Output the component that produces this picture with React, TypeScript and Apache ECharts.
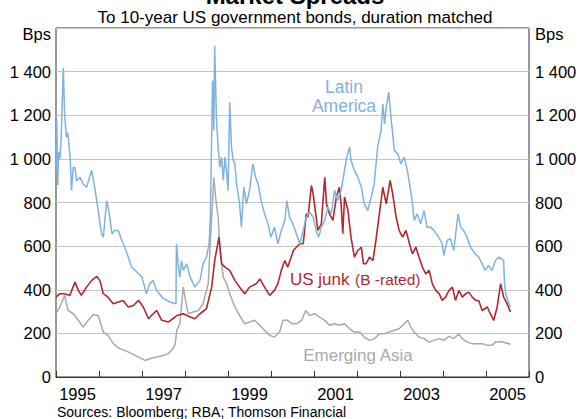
import React, { useEffect, useRef } from "react";
import * as echarts from "echarts";

// [decimal year, basis points]
const latinAmerica: [number, number][] = [
  [1995.0, 950], [1995.02, 1180], [1995.04, 880], [1995.06, 1030], [1995.09, 1000], [1995.12, 1100],
  [1995.17, 1417], [1995.2, 1206], [1995.24, 1100], [1995.27, 1120], [1995.33, 1008], [1995.36, 855],
  [1995.4, 960], [1995.44, 960], [1995.48, 900], [1995.56, 915], [1995.63, 885], [1995.71, 870],
  [1995.83, 947], [1995.9, 870], [1995.98, 763], [1996.06, 657], [1996.1, 641], [1996.18, 809],
  [1996.24, 748], [1996.3, 657], [1996.37, 672], [1996.45, 672], [1996.53, 626], [1996.6, 595],
  [1996.68, 550], [1996.76, 504], [1996.84, 489], [1996.92, 473], [1997.0, 458], [1997.1, 382],
  [1997.18, 428], [1997.26, 443], [1997.34, 397], [1997.5, 359], [1997.65, 344], [1997.79, 336],
  [1997.8, 611], [1997.84, 519], [1997.88, 458], [1997.92, 534], [1997.96, 489], [1998.04, 519],
  [1998.12, 458], [1998.23, 412], [1998.35, 443], [1998.42, 519], [1998.5, 550], [1998.56, 611],
  [1998.59, 733], [1998.64, 1359], [1998.67, 1130], [1998.69, 1519], [1998.73, 1191], [1998.77, 1054],
  [1998.81, 962], [1998.85, 1008], [1998.89, 901], [1998.93, 1008], [1998.97, 931], [1999.0, 855],
  [1999.04, 1260], [1999.08, 1054], [1999.12, 993], [1999.16, 977], [1999.2, 886], [1999.27, 794],
  [1999.31, 687], [1999.37, 870], [1999.43, 794], [1999.5, 855], [1999.58, 977], [1999.64, 916],
  [1999.7, 886], [1999.77, 809], [1999.85, 748], [1999.93, 702], [2000.0, 641], [2000.08, 687],
  [2000.16, 611], [2000.24, 672], [2000.32, 718], [2000.37, 809], [2000.43, 733], [2000.51, 702],
  [2000.59, 657], [2000.67, 611], [2000.75, 672], [2000.82, 733], [2000.9, 756], [2000.98, 733],
  [2001.05, 672], [2001.11, 641], [2001.17, 687], [2001.25, 718], [2001.32, 779], [2001.4, 748],
  [2001.48, 855], [2001.55, 809], [2001.63, 855], [2001.71, 947], [2001.76, 1008], [2001.83, 1054],
  [2001.86, 993], [2001.94, 947], [2002.02, 916], [2002.1, 870], [2002.17, 794], [2002.25, 763],
  [2002.33, 825], [2002.4, 886], [2002.48, 1054], [2002.56, 1130], [2002.6, 1252], [2002.64, 1160],
  [2002.67, 1222], [2002.74, 1306], [2002.79, 1191], [2002.87, 1038], [2002.95, 1023], [2003.02, 977],
  [2003.1, 1008], [2003.17, 947], [2003.21, 901], [2003.27, 825], [2003.33, 718], [2003.4, 748],
  [2003.48, 702], [2003.56, 763], [2003.63, 687], [2003.71, 687], [2003.79, 672], [2003.9, 641],
  [2003.98, 611], [2004.02, 557], [2004.1, 626], [2004.17, 634], [2004.25, 580], [2004.35, 748],
  [2004.41, 687], [2004.48, 672], [2004.56, 641], [2004.64, 595], [2004.75, 565], [2004.83, 550],
  [2004.91, 519], [2004.98, 489], [2005.06, 511], [2005.14, 489], [2005.22, 534], [2005.3, 550],
  [2005.41, 534], [2005.43, 428], [2005.46, 382], [2005.53, 336], [2005.57, 321],
];

const usJunk: [number, number][] = [
  [1995.0, 366], [1995.09, 382], [1995.2, 382], [1995.32, 374], [1995.44, 435], [1995.52, 397],
  [1995.59, 374], [1995.71, 412], [1995.83, 443], [1995.95, 461], [1996.02, 443], [1996.1, 382],
  [1996.21, 366], [1996.33, 336], [1996.45, 344], [1996.56, 351], [1996.68, 321], [1996.8, 328],
  [1996.92, 351], [1997.03, 321], [1997.15, 267], [1997.22, 282], [1997.34, 305], [1997.46, 260],
  [1997.61, 252], [1997.77, 275], [1997.81, 282], [1997.96, 290], [1998.12, 275], [1998.23, 267],
  [1998.35, 290], [1998.5, 313], [1998.62, 412], [1998.69, 534], [1998.79, 641], [1998.85, 519],
  [1998.93, 504], [1999.04, 489], [1999.16, 443], [1999.27, 412], [1999.39, 382], [1999.5, 412],
  [1999.66, 428], [1999.74, 450], [1999.85, 412], [1999.97, 374], [2000.08, 397], [2000.16, 428],
  [2000.24, 489], [2000.32, 534], [2000.39, 504], [2000.47, 550], [2000.52, 580], [2000.59, 595],
  [2000.67, 611], [2000.75, 611], [2000.82, 748], [2000.86, 733], [2000.94, 878], [2000.98, 840],
  [2001.02, 779], [2001.09, 672], [2001.17, 702], [2001.25, 916], [2001.29, 794], [2001.36, 748],
  [2001.44, 718], [2001.52, 825], [2001.59, 870], [2001.63, 794], [2001.67, 657], [2001.71, 825],
  [2001.79, 763], [2001.86, 641], [2001.94, 550], [2002.02, 580], [2002.1, 595], [2002.15, 519],
  [2002.21, 519], [2002.29, 550], [2002.37, 534], [2002.44, 626], [2002.52, 748], [2002.6, 870],
  [2002.68, 794], [2002.77, 901], [2002.83, 840], [2002.91, 733], [2002.98, 672], [2003.06, 641],
  [2003.14, 672], [2003.22, 611], [2003.29, 565], [2003.37, 595], [2003.44, 550], [2003.52, 504],
  [2003.6, 473], [2003.68, 489], [2003.75, 428], [2003.83, 397], [2003.91, 382], [2003.98, 351],
  [2004.06, 366], [2004.14, 397], [2004.22, 412], [2004.29, 351], [2004.37, 397], [2004.45, 366],
  [2004.53, 382], [2004.6, 389], [2004.68, 366], [2004.76, 351], [2004.83, 351], [2004.91, 305],
  [2005.03, 321], [2005.1, 290], [2005.18, 260], [2005.26, 321], [2005.34, 428], [2005.41, 366],
  [2005.49, 336], [2005.57, 298],
];

const emergingAsia: [number, number][] = [
  [1995.0, 290], [1995.09, 321], [1995.2, 374], [1995.28, 305], [1995.4, 290], [1995.52, 260],
  [1995.63, 229], [1995.75, 260], [1995.87, 287], [1995.98, 282], [1996.1, 206], [1996.21, 191],
  [1996.33, 153], [1996.48, 130], [1996.6, 122], [1996.76, 107], [1996.91, 92], [1997.07, 76],
  [1997.18, 84], [1997.34, 92], [1997.5, 99], [1997.61, 107], [1997.72, 130], [1997.77, 150],
  [1997.81, 214], [1997.88, 244], [1997.96, 412], [1998.04, 321], [1998.08, 290], [1998.19, 298],
  [1998.31, 305], [1998.42, 336], [1998.54, 428], [1998.62, 733], [1998.67, 916], [1998.72, 809],
  [1998.77, 733], [1998.81, 595], [1998.89, 458], [1998.97, 428], [1999.04, 382], [1999.16, 321],
  [1999.27, 282], [1999.39, 244], [1999.5, 252], [1999.62, 260], [1999.74, 237], [1999.85, 214],
  [1999.97, 191], [2000.08, 183], [2000.2, 206], [2000.28, 260], [2000.39, 260], [2000.5, 244],
  [2000.59, 244], [2000.71, 260], [2000.81, 305], [2000.9, 282], [2001.02, 290], [2001.13, 275],
  [2001.25, 260], [2001.36, 237], [2001.48, 244], [2001.59, 237], [2001.71, 244], [2001.83, 221],
  [2001.94, 206], [2002.06, 206], [2002.17, 183], [2002.29, 168], [2002.41, 176], [2002.52, 198],
  [2002.64, 198], [2002.75, 206], [2002.87, 214], [2002.98, 221], [2003.1, 244], [2003.18, 260],
  [2003.25, 229], [2003.33, 206], [2003.44, 183], [2003.56, 176], [2003.68, 160], [2003.79, 168],
  [2003.91, 176], [2004.02, 168], [2004.14, 186], [2004.25, 176], [2004.36, 196], [2004.45, 176],
  [2004.56, 160], [2004.68, 153], [2004.8, 153], [2004.91, 153], [2005.03, 145], [2005.14, 145],
  [2005.22, 160], [2005.34, 163], [2005.45, 157], [2005.57, 150],
];

const yearTicks = [1995, 1996, 1997, 1998, 1999, 2000, 2001, 2002, 2003, 2004, 2005, 2006];
const yearLabels = [1995.5, 1997.5, 1999.5, 2001.5, 2003.5, 2005.5];

const FONT = "Arial, 'Liberation Sans', Helvetica, sans-serif";
const BLUE = "#7fb2df";
const RED = "#b0282f";
const GREY = "#a9a9a9";

const fmtBps = (v: number) => {
  if (v >= 1600) return "";
  if (v >= 1000) {
    const s = String(v);
    return s.slice(0, s.length - 3) + " " + s.slice(-3);
  }
  return String(v);
};

export default function App() {
  const ref = useRef<HTMLDivElement>(null);
  useEffect(() => {
    if (!ref.current) return;
    const chart = echarts.init(ref.current, undefined, { renderer: "svg" });
    const yAxisCommon = {
      type: "value" as const,
      min: 0,
      max: 1600,
      interval: 200,
      axisLine: { show: false },
      axisTick: { show: false },
      axisLabel: {
        formatter: fmtBps,
        fontFamily: FONT,
        fontSize: 16.5,
        color: "#000",
        margin: 5,
      },
    };
    chart.setOption({
      animation: false,
      backgroundColor: "#fff",
      grid: {
        left: 56,
        right: 52,
        top: 28,
        bottom: 42,
        show: true,
        borderColor: "#333",
        borderWidth: 1,
        containLabel: false,
      },
      xAxis: {
        type: "value",
        min: 1995,
        max: 2006,
        interval: 1,
        axisLine: { show: true, lineStyle: { color: "#333", width: 1 } },
        axisTick: {
          show: true,
          inside: true,
          length: 6,
          lineStyle: { color: "#333" },
          customValues: yearTicks,
        },
        splitLine: { show: false },
        axisLabel: {
          customValues: yearLabels,
          formatter: (v: number) => String(Math.floor(v)),
          fontFamily: FONT,
          fontSize: 16.5,
          color: "#000",
          margin: 8,
        },
      },
      yAxis: [
        {
          ...yAxisCommon,
          position: "left",
          splitLine: { show: true, lineStyle: { color: "#c4c4c4", width: 1 } },
        },
        {
          ...yAxisCommon,
          position: "right",
          splitLine: { show: false },
          axisLabel: { ...yAxisCommon.axisLabel, margin: 6 },
        },
      ],
      series: [
        {
          name: "Emerging Asia",
          type: "line",
          data: emergingAsia,
          showSymbol: false,
          lineStyle: { color: GREY, width: 1.5 },
          z: 2,
        },
        {
          name: "US junk",
          type: "line",
          data: usJunk,
          showSymbol: false,
          lineStyle: { color: RED, width: 1.6 },
          z: 3,
        },
        {
          name: "Latin America",
          type: "line",
          data: latinAmerica,
          showSymbol: false,
          lineStyle: { color: BLUE, width: 1.5 },
          z: 4,
        },
      ],
      graphic: [
        {
          type: "text",
          x: 295,
          y: -5,
          style: { text: "Market Spreads", font: `bold 24px ${FONT}`, fill: "#000", textAlign: "center", textVerticalAlign: "middle" },
        },
        {
          type: "text",
          x: 295,
          y: 17,
          style: { text: "To 10-year US government bonds, duration matched", font: `17px ${FONT}`, fill: "#000", textAlign: "center", textVerticalAlign: "middle" },
        },
        {
          type: "text",
          x: 51,
          y: 34,
          style: { text: "Bps", font: `16.5px ${FONT}`, fill: "#000", textAlign: "right", textVerticalAlign: "middle" },
        },
        {
          type: "text",
          x: 535,
          y: 34,
          style: { text: "Bps", font: `16.5px ${FONT}`, fill: "#000", textAlign: "left", textVerticalAlign: "middle" },
        },
        {
          type: "text",
          x: 344,
          y: 86.6,
          style: { text: "Latin", font: `17.5px ${FONT}`, fill: BLUE, textAlign: "center", textVerticalAlign: "middle" },
        },
        {
          type: "text",
          x: 344,
          y: 105.6,
          style: { text: "America", font: `17.5px ${FONT}`, fill: BLUE, textAlign: "center", textVerticalAlign: "middle" },
        },
        {
          type: "text",
          x: 290,
          y: 279,
          style: { text: "US junk", font: `17px ${FONT}`, fill: RED, textAlign: "left", textVerticalAlign: "middle" },
        },
        {
          type: "text",
          x: 355,
          y: 279.5,
          style: { text: "(B -rated)", font: `15.5px ${FONT}`, fill: RED, textAlign: "left", textVerticalAlign: "middle" },
        },
        {
          type: "text",
          x: 358,
          y: 355.8,
          style: { text: "Emerging Asia", font: `17px ${FONT}`, fill: GREY, textAlign: "center", textVerticalAlign: "middle" },
        },
        {
          type: "text",
          x: 57,
          y: 411.8,
          style: { text: "Sources: Bloomberg; RBA; Thomson Financial", font: `14px ${FONT}`, fill: "#000", textAlign: "left", textVerticalAlign: "middle" },
        },
      ],
    });
    return () => chart.dispose();
  }, []);
  return (
    <div
      ref={ref}
      style={{ position: "fixed", left: 0, top: 0, width: 581, height: 419, background: "#fff" }}
    />
  );
}
